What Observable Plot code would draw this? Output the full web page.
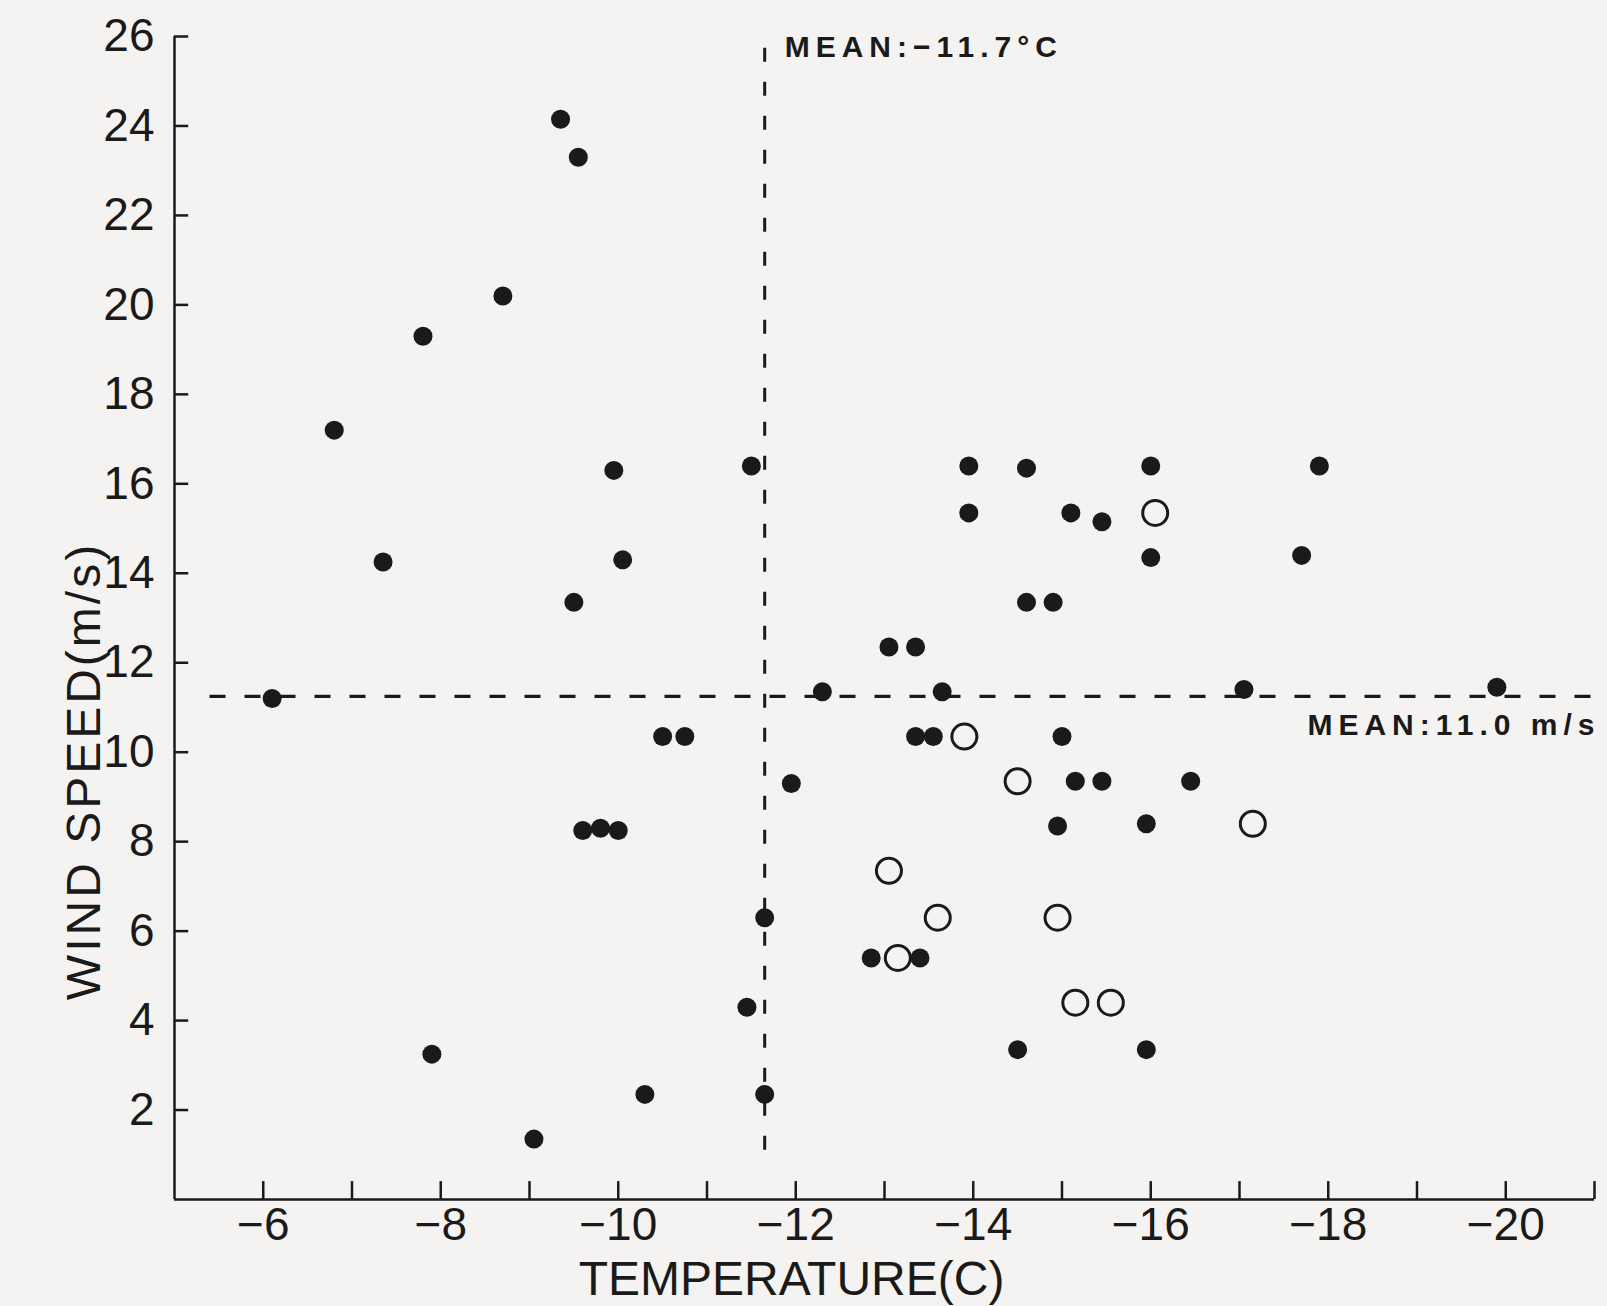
<!DOCTYPE html>
<html>
<head>
<meta charset="utf-8">
<script src="https://cdn.jsdelivr.net/npm/d3@7"></script>
<script src="https://cdn.jsdelivr.net/npm/@observablehq/plot@0.6"></script>
<style>
  html, body { margin: 0; padding: 0; background: #f5f3f1; }
  #chart { width: 1607px; height: 1306px; }
</style>
</head>
<body>
<div id="chart"></div>
<script>
// ---- data ----
const filledTemp = [-6.1, -6.8, -7.35, -7.8, -8.7, -9.35, -9.55, -9.95, -10.05, -9.5,
  -11.5, -10.5, -10.75, -9.6, -9.8, -10.0, -7.9, -9.05, -10.3, -11.45,
  -11.65, -11.65, -11.95, -12.3, -13.05, -13.35, -13.35, -13.55, -13.65, -13.95,
  -13.95, -14.6, -14.6, -14.9, -15.1, -15.45, -16.0, -16.0, -17.05, -17.7,
  -17.9, -19.9, -15.0, -15.15, -15.45, -16.45, -14.95, -15.95, -12.85, -13.4,
  -14.5, -15.95];
const filledWind = [11.2, 17.2, 14.25, 19.3, 20.2, 24.15, 23.3, 16.3, 14.3, 13.35,
  16.4, 10.35, 10.35, 8.25, 8.3, 8.25, 3.25, 1.35, 2.35, 4.3,
  6.3, 2.35, 9.3, 11.35, 12.35, 12.35, 10.35, 10.35, 11.35, 16.4,
  15.35, 16.35, 13.35, 13.35, 15.35, 15.15, 16.4, 14.35, 11.4, 14.4,
  16.4, 11.45, 10.35, 9.35, 9.35, 9.35, 8.35, 8.4, 5.4, 5.4,
  3.35, 3.35];
const openTemp = [-16.05, -13.9, -14.5, -17.15, -13.05, -13.6, -14.95, -13.15, -15.15, -15.55];
const openWind = [15.35, 10.35, 9.35, 8.4, 7.35, 6.3, 6.3, 5.4, 4.4, 4.4];

const xLabelTicks = [-6, -8, -10, -12, -14, -16, -18, -20];
const xTickMarks = [-6, -7, -8, -9, -10, -11, -12, -13, -14, -15, -16, -17, -18, -19, -20, -21];
const yTicks = [2, 4, 6, 8, 10, 12, 14, 16, 18, 20, 22, 24, 26];

const meanTemp = -11.65;
const meanWind = 11.25;
const meanTempLabel = "MEAN:\u221211.7\u00B0C";
const meanWindLabel = "MEAN:11.0 m/s";
const xTitle = "TEMPERATURE(C)";
const yTitle = "WIND SPEED(m/s)";

// ---- build ----
const filled = filledTemp.map((t, i) => ({t, w: filledWind[i]}));
const open = openTemp.map((t, i) => ({t, w: openWind[i]}));
const ink = "#1b1a1a";
const bg = "#f5f3f1";

const chart = Plot.plot({
  width: 1607,
  height: 1306,
  marginLeft: 174,
  marginRight: 13,
  marginTop: 36,
  marginBottom: 107,
  x: {domain: [-5, -21]},
  y: {domain: [0, 26]},
  style: {background: "transparent", color: ink, fontFamily: "'Liberation Sans', Arial, Helvetica, sans-serif", fontSize: "46px"},
  marks: [
    // axis lines
    Plot.ruleX([-5], {y1: 0, y2: 26, stroke: ink, strokeWidth: 2.5}),
    Plot.ruleY([0], {x1: -5, x2: -21, stroke: ink, strokeWidth: 2.5}),
    // inward tick marks
    Plot.ruleX(xTickMarks, {x: d => d, y1: 0, y2: 0.4, stroke: ink, strokeWidth: 2.5}),
    Plot.ruleY(yTicks, {y: d => d, x1: -5, x2: -5.16, stroke: ink, strokeWidth: 2.5}),
    // tick labels
    Plot.axisX({ticks: xLabelTicks, tickSize: 0, tickPadding: 8, label: null, fontSize: 46,
      tickFormat: d => "\u2212" + Math.abs(d)}),
    Plot.axisY({ticks: yTicks, tickSize: 0, tickPadding: 20, label: null, fontSize: 46}),
    // mean lines
    Plot.ruleX([meanTemp], {x: d => d, y1: 1.1, y2: 26, stroke: ink, strokeWidth: 3, strokeDasharray: "14,20"}),
    Plot.ruleY([meanWind], {y: d => d, x1: -5.4, x2: -21.05, stroke: ink, strokeWidth: 3.2, strokeDasharray: "16,19"}),
    // points
    Plot.dot(filled, {x: "t", y: "w", r: 9.5, fill: ink, stroke: "none"}),
    Plot.dot(open, {x: "t", y: "w", r: 12.5, fill: bg, stroke: ink, strokeWidth: 3}),
    // mean labels
    Plot.text([meanTempLabel], {x: meanTemp, y: 26, text: d => d, textAnchor: "start", lineAnchor: "middle",
      dx: 20, dy: 11, fontSize: 30, fontWeight: "bold", fill: ink}),
    Plot.text([meanWindLabel], {x: -21, y: meanWind, text: d => d, textAnchor: "end", lineAnchor: "middle",
      dx: 6, dy: 29, fontSize: 30, fontWeight: "bold", fill: ink}),
    // axis titles
    Plot.text([xTitle], {frameAnchor: "bottom", text: d => d, textAnchor: "middle", dx: -93, dy: 80, lineAnchor: "middle", fontSize: 48, fill: ink}),
    Plot.text([yTitle], {frameAnchor: "left", text: d => d, textAnchor: "middle", rotate: -90, dx: -90, dy: 153, lineAnchor: "middle", fontSize: 48, fill: ink})
  ]
});

document.getElementById("chart").appendChild(chart);

// letter spacing like the typeset original
d3.select(chart).selectAll("text").filter(function() { return this.textContent.startsWith("MEAN"); })
  .attr("letter-spacing", "6px");
d3.select(chart).selectAll("text").filter(function() { return this.textContent === yTitle; })
  .attr("letter-spacing", "3px");
</script>
</body>
</html>
